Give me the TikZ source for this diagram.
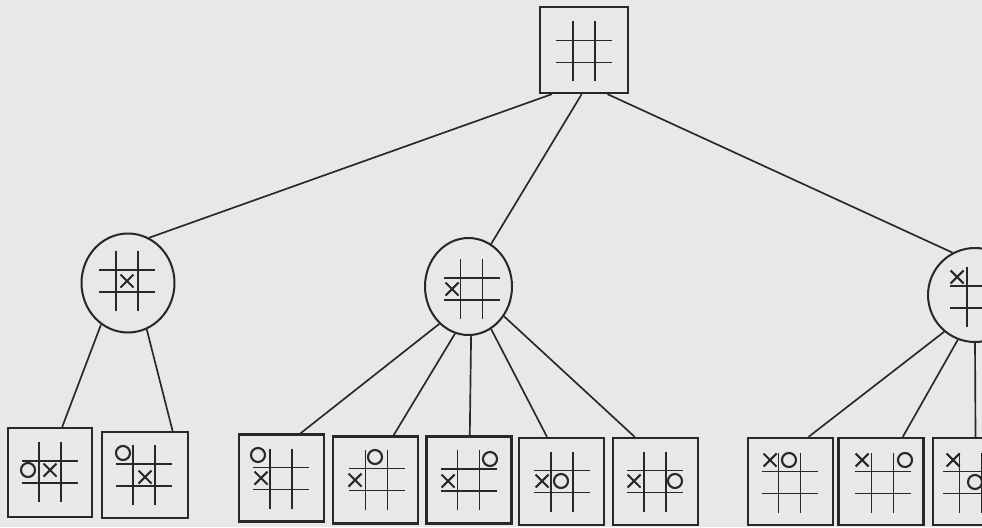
\documentclass[tikz,border=0pt]{standalone}
\usetikzlibrary{shapes.geometric}
\definecolor{paper}{RGB}{232,232,230}
\definecolor{ink}{RGB}{40,40,40}
\tikzset{
  board/.style={draw=ink, line width=1.3pt, minimum width=1.70cm, minimum height=1.74cm, inner sep=0pt},
  choice/.style={draw=ink, line width=1.15pt, ellipse, inner sep=0pt},
  link/.style={draw=ink, line width=0.95pt},
  gridline/.style={draw=ink, line width=1.1pt},
  markline/.style={draw=ink, line width=1.2pt},
}
\newcommand\tgrid[2]{\draw[gridline, shift={(#1,#2)}] (-11,-30) -- (-11,30) (11,-30) -- (11,30) (-28,-11) -- (28,-11) (-28,11) -- (28,11);}
\newcommand\mkX[2]{\draw[markline, shift={(#1,#2)}] (-6.5,-6.5) -- (6.5,6.5) (-6.5,6.5) -- (6.5,-6.5);}
\newcommand\mkO[2]{\draw[markline] (#1,#2) circle[radius=0.14cm];}
\begin{document}
\begin{tikzpicture}[x=0.02cm,y=-0.02cm]
\fill[paper] (0,0) rectangle (982,527);
\useasboundingbox (0,0) rectangle (982,527);
\clip (0,0) rectangle (982,527);

% nodes
\node[board, minimum width=1.76cm, minimum height=1.72cm] (root) at (584,50) {};
\node[choice, minimum width=1.86cm, minimum height=1.98cm] (lc) at (128,283) {};
\node[choice, minimum width=1.74cm, minimum height=1.94cm] (mc) at (468.5,286.5) {};
\node[choice, minimum width=1.88cm, minimum height=1.88cm] (rc) at (975,295) {};
\node[board, minimum width=1.68cm, minimum height=1.78cm] (b1) at (50,472.5) {};
\node[board, minimum width=1.72cm, minimum height=1.72cm] (b2) at (145,475) {};
\node[board] (m1) at (281.5,478) {};
\node[board] (m2) at (375.5,480) {};
\node[board] (m3) at (469,480) {};
\node[board] (m4) at (561.5,481.5) {};
\node[board] (m5) at (655.5,481.5) {};
\node[board] (r1) at (790.5,481.5) {};
\node[board] (r2) at (881,481.5) {};
\node[board] (r3) at (975.5,481.5) {};

% connectors
\draw[link] (root.234) -- (lc.65);
\draw[link] (root.267) -- (mc.62);
\draw[link] (root.298) -- (rc.118);
\draw[link] (lc.237) -- (b1.75);
\draw[link] (lc.292) -- (b2.58);
\draw[link] (mc.232) -- (m1.67);
\draw[link] (mc.254) -- (m2.68);
\draw[link] (mc.273) -- (m3.89);
\draw[link] (mc.298) -- (m4.108);
\draw[link] (mc.320) -- (m5.115);
\draw[link] (rc.230) -- (r1.68);
\draw[link] (rc.249) -- (r2.64);
\draw[link] (rc.270) -- (r3.90);

% grids
\tgrid{584}{51.5}
\tgrid{127}{281}
\tgrid{471.5}{289}
\tgrid{978}{297}
\tgrid{50}{472}
\tgrid{144}{475}
\tgrid{281}{478.5}
\tgrid{376.5}{479.5}
\tgrid{468.5}{480}
\tgrid{562}{481.5}
\tgrid{655}{481.5}
\tgrid{789.5}{482.5}
\tgrid{882.5}{482.5}
\tgrid{970.5}{482.5}

% marks
\mkX{127}{281}
\mkO{28}{470} \mkX{50}{470}
\mkO{123}{453} \mkX{145}{477}
\mkX{452}{289}
\mkO{258}{455} \mkX{261}{478}
\mkX{355}{480} \mkO{375}{457}
\mkX{448}{481} \mkO{490}{459}
\mkX{542}{481} \mkO{561}{481}
\mkX{634}{481} \mkO{675}{481}
\mkX{770}{460} \mkO{789}{460}
\mkX{862}{460} \mkO{905}{460}
\mkX{953}{460} \mkO{975}{482}
\mkX{957}{277}
\end{tikzpicture}
\end{document}
